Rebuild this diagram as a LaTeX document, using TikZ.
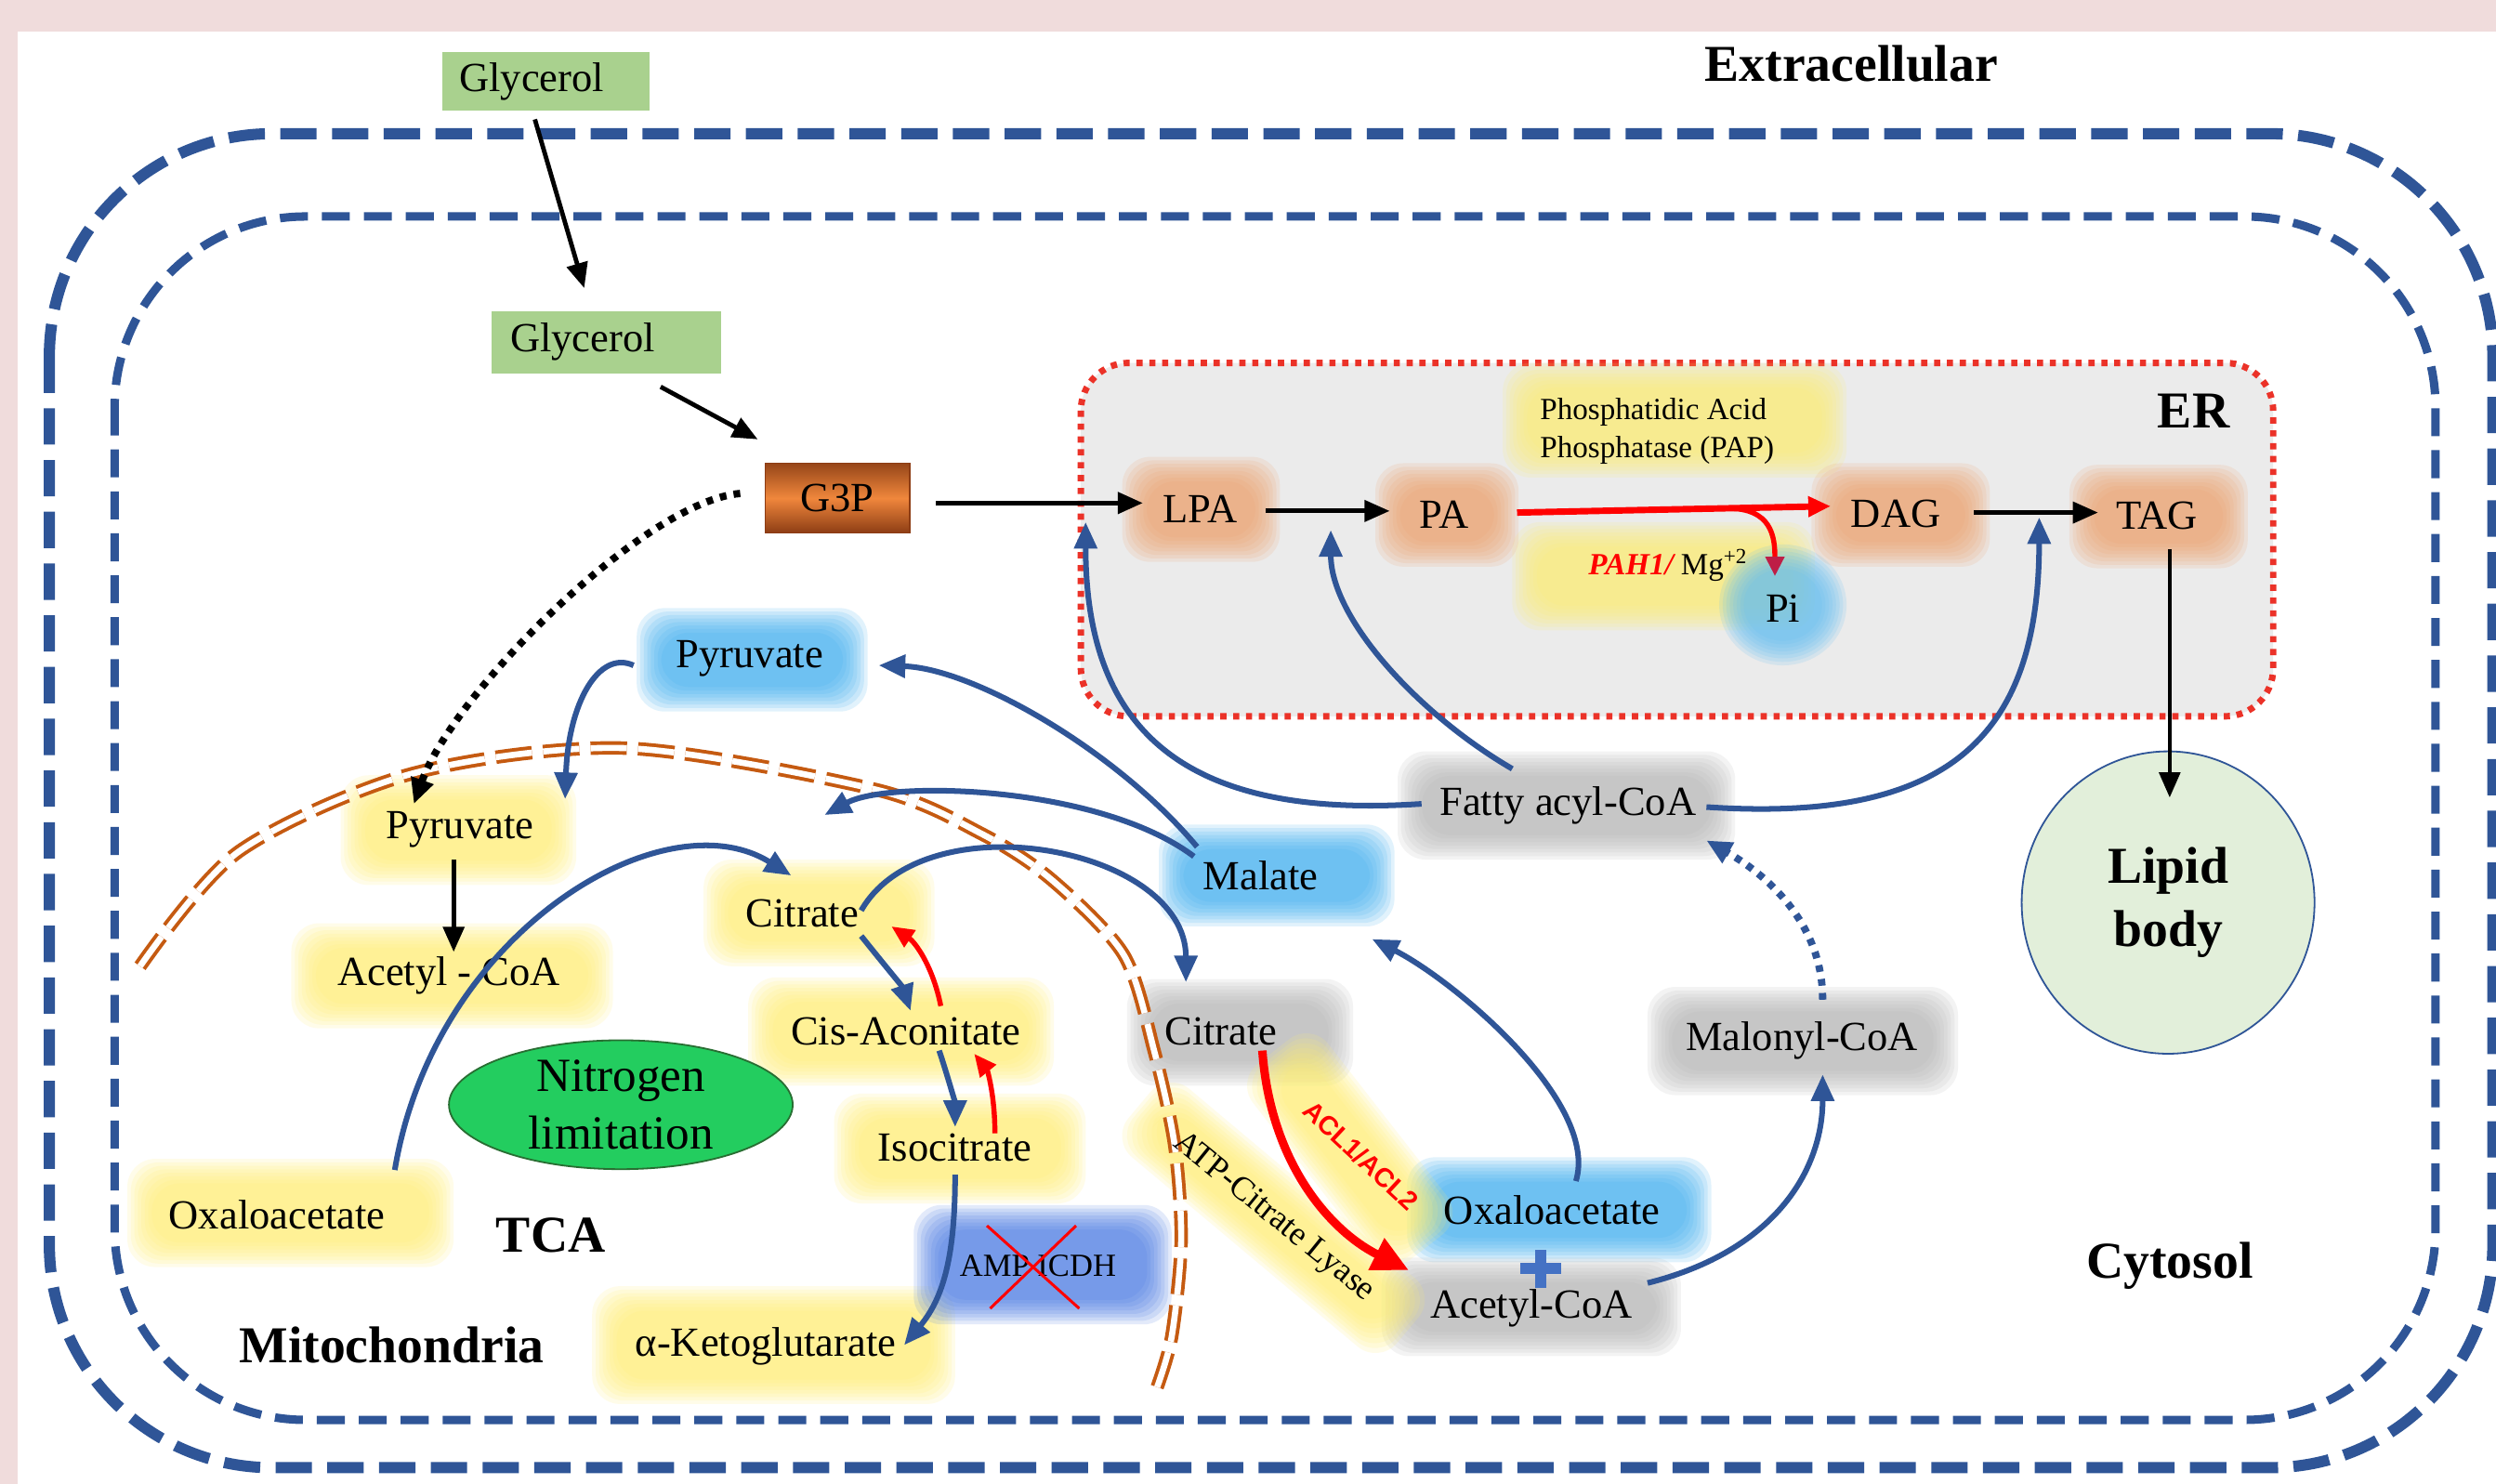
\documentclass[tikz,border=0pt]{standalone}
\usepackage{fontspec}
\setmainfont{Liberation Serif}
\newfontfamily\arialf{Liberation Sans}
\usetikzlibrary{arrows.meta,calc,shapes.geometric}
\pgfdeclarelayer{bgl}\pgfdeclarelayer{glowl}
\pgfsetlayers{bgl,glowl,main}
\definecolor{pinkbg}{RGB}{240,220,220}
\definecolor{mblue}{RGB}{47,85,151}
\definecolor{mito}{RGB}{197,90,17}
\definecolor{ergray}{RGB}{235,235,235}
\definecolor{erred}{RGB}{235,50,40}
\definecolor{gyellow}{RGB}{255,239,113}
\definecolor{gblue}{RGB}{59,174,241}
\definecolor{ggray}{RGB}{180,180,180}
\definecolor{gorange}{RGB}{241,160,106}
\definecolor{gamp}{RGB}{70,120,228}
\definecolor{glgreen}{RGB}{169,209,142}
\definecolor{nitrog}{RGB}{35,205,95}
\definecolor{nitrob}{RGB}{40,110,50}
\definecolor{lipidc}{RGB}{226,239,218}
\definecolor{crimsonc}{RGB}{190,30,70}
\definecolor{plusblue}{RGB}{68,114,196}
\definecolor{gtop}{RGB}{150,70,25}
\definecolor{gmid}{RGB}{240,135,60}
\definecolor{gbot}{RGB}{140,60,20}
\newcommand\glowrect[5]{\foreach \k in {0,...,7}{\fill[#5,opacity=0.15,rounded corners=10pt] ({#1+2.2*\k},{#2+2.2*\k}) rectangle ({#3-2.2*\k},{#4-2.2*\k});}}
\begin{document}
\begin{tikzpicture}[x=0.02cm,y=-0.02cm,
  txt/.style={font=\fontsize{14.8}{17.5}\selectfont, inner sep=0pt},
  bigl/.style={font=\fontsize{18.5}{22.5}\selectfont\bfseries, inner sep=0pt},
  barrow/.style={draw=mblue, line width=2pt, -{Triangle[length=9.5pt,width=8pt]}},
  karrow/.style={draw=black, line width=1.6pt, -{Triangle[length=9pt,width=7.5pt]}},
  rarrow/.style={draw=red, line width=1.8pt, -{Triangle[length=8pt,width=7pt]}},
  kdot/.style={draw=black, line width=2.6pt, dash pattern=on 2.4pt off 2.6pt, -{Triangle[length=9pt,width=8pt]}},
  bdot/.style={draw=mblue, line width=2.6pt, dash pattern=on 2.4pt off 2.6pt, -{Triangle[length=9pt,width=8pt]}},
  gbox/.style={fill=glgreen, inner sep=0pt, font=\fontsize{14.8}{17.5}\selectfont}
]
\useasboundingbox (0,0) rectangle (1568,932);
\begin{pgfonlayer}{bgl}
\fill[pinkbg] (0,0) rectangle (1568,932);
\fill[white] (11,20) rectangle (1568,932);
\draw[mblue, line width=4pt, dash pattern=on 13pt off 5.5pt, rounded corners=2.8cm] (31,84) rectangle (1566,922);
\draw[mblue, line width=3pt, dash pattern=on 10pt off 5pt, rounded corners=2.4cm] (72,136) rectangle (1530,892);
\draw[erred, fill=ergray, line width=2.3pt, dash pattern=on 2.2pt off 2.4pt, rounded corners=0.6cm] (679,228) rectangle (1428,450);
\end{pgfonlayer}
\begin{pgfonlayer}{glowl}
\glowrect{400}{382}{545}{447}{gblue}
\glowrect{728}{518}{876}{582}{gblue}
\glowrect{884}{727}{1075}{793}{gblue}
\glowrect{868}{790}{1056}{852}{ggray}
\glowrect{708}{615}{850}{682}{ggray}
\glowrect{1035}{620}{1230}{688}{ggray}
\glowrect{878}{472}{1090}{540}{ggray}
\glowrect{214}{487}{362}{556}{gyellow}
\glowrect{183}{580}{385}{646}{gyellow}
\glowrect{442}{540}{587}{607}{gyellow}
\glowrect{470}{614}{662}{682}{gyellow}
\glowrect{524}{687}{682}{756}{gyellow}
\glowrect{80}{728}{285}{796}{gyellow}
\glowrect{372}{808}{600}{882}{gyellow}
\glowrect{574}{757}{736}{832}{gamp}
\glowrect{944}{228}{1160}{300}{gyellow}
\glowrect{950}{328}{1140}{396}{gyellow}
\glowrect{705}{287}{804}{353}{gorange}
\glowrect{864}{291}{954}{356}{gorange}
\glowrect{1138}{291}{1250}{356}{gorange}
\glowrect{1300}{292}{1412}{357}{gorange}
\foreach \k in {0,...,7}{\fill[gblue!80,opacity=0.16] (1120,380) ellipse [x radius={(40-2.2*\k)*0.02cm}, y radius={(38-2.2*\k)*0.02cm}];}
\begin{scope}[shift={(800,765)},rotate=-40]
\glowrect{-110}{-28}{110}{28}{gyellow}
\end{scope}
\begin{scope}[shift={(848,722)},rotate=-52]
\glowrect{-78}{-30}{78}{30}{gyellow}
\end{scope}
\end{pgfonlayer}
% mitochondrial membrane
\draw[mito, line width=1.3pt, double=white, double distance=2.2pt, dash pattern=on 13pt off 4pt] plot[smooth] coordinates {(88,607) (150,535) (259,486) (393,470) (550,496) (617,524) (661,553) (706,600) (725,660) (738,720) (742,780) (736,840) (726,874)};
% labels
\node[bigl] (extra) at (1163,40) {Extracellular};
\node[bigl] (erl) at (1378,258) {ER};
\node[bigl] (mitol) at (246,845) {Mitochondria};
\node[bigl] (tcal) at (346,776) {TCA};
\node[bigl] (cytol) at (1363,795) {Cytosol};
% nodes
\node[gbox, minimum width=2.6cm, minimum height=0.74cm] (glyc1) at (343,51) {Glycerol\hspace*{0.36cm}};
\node[gbox, minimum width=2.88cm, minimum height=0.78cm] (glyc2) at (381,215) {Glycerol\hspace*{0.6cm}};
\node[draw=gbot, line width=0.4pt, top color=gtop, bottom color=gbot, middle color=gmid, minimum width=1.82cm, minimum height=0.88cm, inner sep=0pt, font=\fontsize{14.8}{17.5}\selectfont] (g3p) at (526,313) {G3P};
\node[txt] (lpa) at (754,320) {LPA};
\node[txt] (pa) at (907,323) {PA};
\node[txt] (dag) at (1191,323) {DAG};
\node[txt] (tag) at (1355,324) {TAG};
\node[txt] (pi) at (1120,382) {Pi};
\node[font=\fontsize{11}{13.6}\selectfont, align=left, inner sep=0pt] (pap) at (1041,271) {Phosphatidic Acid\\Phosphatase (PAP)};
\node[font=\fontsize{11}{13}\selectfont, inner sep=0pt] (pah) at (1048,355) {\textcolor{red}{\textbf{\textit{PAH1/}}}\,Mg\textsuperscript{+2}};
\node[txt] (pyrc) at (471,414) {Pyruvate};
\node[txt] (mal) at (792,550) {Malate};
\node[txt] (oxc) at (975,760) {Oxaloacetate};
\node[txt] (acc) at (962,822) {Acetyl-CoA};
\node[txt] (citc) at (767,648) {Citrate};
\node[txt] (malo) at (1132,654) {Malonyl-CoA};
\node[txt] (fac) at (985,506) {Fatty acyl-CoA};
\node[txt] (pyrm) at (289,521) {Pyruvate};
\node[txt] (acm) at (282,613) {Acetyl - CoA};
\node[txt] (citm) at (504,574) {Citrate};
\node[txt] (cis) at (569,648) {Cis-Aconitate};
\node[txt] (iso) at (600,721) {Isocitrate};
\node[txt] (oxm) at (174,763) {Oxaloacetate};
\node[txt] (akg) at (481,846) {α-Ketoglutarate};
\node[font=\fontsize{11.5}{13}\selectfont, inner sep=0pt] (amp) at (652,795) {AMP ICDH};
\node[ellipse, fill=nitrog, draw=nitrob, line width=0.6pt, minimum width=4.32cm, minimum height=1.62cm, inner sep=0pt, align=center, font=\fontsize{17}{20.4}\selectfont] (nitro) at (390,694) {Nitrogen\\limitation};
\node[ellipse, fill=lipidc, draw=mblue, line width=0.6pt, minimum width=3.68cm, minimum height=3.8cm, inner sep=0pt, align=center, font=\fontsize{18.5}{22.7}\selectfont\bfseries] (lipid) at (1362,567) {Lipid\\body};
\node[rotate=-39, font=\fontsize{12}{14}\selectfont, inner sep=0pt] (atp) at (800,765) {ATP-Citrate Lyase};
\node[rotate=-43, text=red, font=\arialf\bfseries\fontsize{9.5}{11}\selectfont, inner sep=0pt] (acl) at (855,726) {ACL1/ACL2};
\coordinate (plus) at (968,797);
\fill[plusblue] ($(plus)+(-13,-3.5)$) rectangle ($(plus)+(13,3.5)$);
\fill[plusblue] ($(plus)+(-3.5,-12)$) rectangle ($(plus)+(3.5,12)$);
\draw[red, line width=1pt] ($(amp)+(-32,-25)$) -- ($(amp)+(26,27)$);
\draw[red, line width=1pt] ($(amp)+(24,-25)$) -- ($(amp)+(-30,27)$);
% black connectors
\draw[karrow] ($(glyc1)+(-7,24)$) -- ($(glyc2)+(-14,-34)$);
\draw[karrow] ($(glyc2)+(34,28)$) -- ($(g3p)+(-50,-37)$);
\draw[karrow, line width=1.8pt] ($(g3p)+(62,3)$) -- ($(lpa)+(-36,-4)$);
\draw[kdot] ($(g3p)+(-61,-3)$) .. controls +(-60,5) and +(25,-70) .. ($(pyrm)+(-29,-16)$);
\draw[karrow] ($(lpa)+(41,1)$) -- ($(pa)+(-34,-2)$);
\draw[rarrow, line width=2.3pt] ($(pa)+(46,-1)$) -- coordinate[pos=0.67] (brc) ($(dag)+(-41,-5)$);
\draw[red, line width=1.8pt, -{Triangle[length=7pt,width=6.5pt,color=crimsonc]}] (brc) .. controls +(28,0) and +(0,-25) .. ($(pi)+(-5,-20)$);
\draw[karrow] ($(dag)+(49,-1)$) -- ($(tag)+(-37,-2)$);
\draw[karrow, line width=1.3pt] ($(tag)+(8,21)$) -- ($(lipid)+(1,-66)$);
\draw[karrow] ($(pyrm)+(-4,19)$) -- ($(acm)+(3,-15)$);
% blue connectors
\draw[barrow] ($(pyrc)+(-73,4)$) .. controls +(-22,-10) and +(2,-60) .. ($(pyrm)+(66,-19)$);
\draw[barrow] ($(mal)+(-40,-18)$) .. controls +(-50,-60) and +(60,2) .. ($(pyrc)+(81,4)$);
\draw[barrow] ($(mal)+(-42,-12)$) .. controls +(-60,-45) and +(40,-22) .. ($(citm)+(14,-62)$);
\draw[barrow] ($(citm)+(37,-2)$) .. controls +(40,-70) and +(0,-85) .. ($(citc)+(-22,-31)$);
\draw[barrow] ($(oxm)+(74,-28)$) .. controls +(25,-150) and +(-80,-50) .. ($(citm)+(-7,-24)$);
\draw[barrow] ($(citm)+(37,14)$) .. controls +(12,15) and +(-5,-15) .. ($(cis)+(3,-13)$);
\draw[rarrow] ($(cis)+(22,-16)$) .. controls +(-5,-25) and +(15,10) .. ($(citm)+(56,8)$);
\draw[barrow] ($(cis)+(21,12)$) .. controls +(5,15) and +(0,-15) .. ($(iso)+(0,-13)$);
\draw[rarrow] ($(iso)+(25,-9)$) .. controls +(0,-25) and +(8,10) .. ($(cis)+(43,14)$);
\draw[barrow] ($(iso)+(0,17)$) .. controls +(0,50) and +(25,-30) .. ($(akg)+(87,-1)$);
\draw[barrow] ($(oxc)+(15,-18)$) .. controls +(15,-50) and +(50,25) .. ($(mal)+(70,40)$);
\draw[barrow] ($(acc)+(73,-16)$) .. controls +(80,-20) and +(0,60) .. ($(malo)+(13,21)$);
\draw[bdot] ($(malo)+(13,-26)$) .. controls +(0,-50) and +(35,20) .. ($(fac)+(87,22)$);
\draw[barrow] ($(fac)+(-92,-1)$) .. controls +(-150,10) and +(0,130) .. ($(lpa)+(-72,8)$);
\draw[barrow] ($(fac)+(-35,-23)$) .. controls +(-60,-35) and +(0,55) .. ($(pa)+(-71,10)$);
\draw[barrow] ($(fac)+(87,1)$) .. controls +(150,10) and +(0,140) .. ($(tag)+(-74,1)$);
\draw[red, line width=3pt, -{Triangle[length=13pt,width=12pt]}] ($(citc)+(26,12)$) .. controls +(5,70) and +(-50,-25) .. ($(acc)+(-77,-24)$);
\end{tikzpicture}
\end{document}
